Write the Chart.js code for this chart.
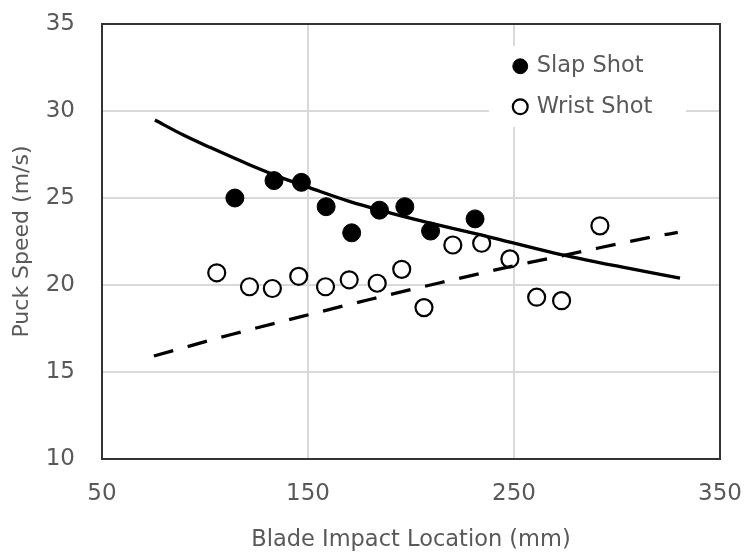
<!DOCTYPE html>
<html>
<head>
<meta charset="utf-8">
<script src="https://cdn.jsdelivr.net/npm/chart.js@4"></script>
<style>
  html, body { margin: 0; padding: 0; background: #ffffff; }
  #wrap { width: 745px; height: 554px; }
</style>
</head>
<body>
<div id="wrap"><canvas id="chart" width="745" height="554"></canvas></div>
<script>
// Measured puck speeds by blade impact location
const slapX  = [114.5, 133.5, 146.8, 158.8, 171.2, 184.7, 197.0, 209.5, 231.1];
const slapY  = [25.0, 26.0, 25.9, 24.5, 23.0, 24.3, 24.5, 23.1, 23.8];
const wristX = [105.7, 121.6, 132.7, 145.5, 158.5, 170.0, 183.6, 195.5, 206.3, 220.3, 234.3, 248.0, 261.0, 273.1, 291.7];
const wristY = [20.7, 19.9, 19.8, 20.5, 19.9, 20.3, 20.1, 20.9, 18.7, 22.3, 22.4, 21.5, 19.3, 19.1, 23.4];

// Trend curves through each group
const slapFitX  = [75.7, 89.5, 102.4, 121.8, 138.0, 151.0, 170.4, 186.5, 204.4, 236.7, 269.1, 301.5, 330.6];
const slapFitY  = [29.48, 28.62, 27.91, 26.90, 26.13, 25.58, 24.79, 24.25, 23.70, 22.80, 21.85, 21.05, 20.39];
const wristFitX = [75.2, 113.3, 146.6, 180.4, 214.1, 248.1, 280.4, 316.0, 329.5];
const wristFitY = [15.92, 17.17, 18.18, 19.18, 20.13, 21.05, 21.86, 22.74, 23.02];

// Axis ticks
const xTicks = [50, 150, 250, 350];
const yTicks = [10, 15, 20, 25, 30, 35];

const seriesNames = ['Slap Shot', 'Wrist Shot'];
const xTitle = 'Blade Impact Location (mm)';
const yTitle = 'Puck Speed (m/s)';

const pts = (xs, ys) => xs.map((x, i) => ({ x: x, y: ys[i] }));

const FONT = "'DejaVu Sans', sans-serif";
const TEXT = '#595959';

// Legend sits in the upper right of the plot on a white patch; plot gets a dark frame
const framePlugin = {
  id: 'frame',
  afterLayout(chart) {
    const lg = chart.legend;
    const a = chart.chartArea;
    lg.left = a.left + 395;
    lg.top = a.top + 13;
    lg.right = lg.left + 200;
    lg.bottom = lg.top + 110;
  },
  afterDraw(chart) {
    const ctx = chart.ctx;
    const a = chart.chartArea;
    ctx.save();
    ctx.fillStyle = '#ffffff';
    ctx.fillRect(a.left + 387, a.top + 22, 197, 81);
    chart.legend.draw();
    ctx.strokeStyle = '#333333';
    ctx.lineWidth = 2;
    ctx.strokeRect(a.left, a.top, a.right - a.left, a.bottom - a.top);
    ctx.restore();
  }
};

new Chart(document.getElementById('chart'), {
  type: 'scatter',
  data: {
    datasets: [
      {
        label: seriesNames[0],
        data: pts(slapX, slapY),
        pointStyle: 'circle',
        pointRadius: 9,
        pointHoverRadius: 9,
        pointBackgroundColor: '#000000',
        pointBorderColor: '#000000',
        pointBorderWidth: 1,
        showLine: false,
        order: 1
      },
      {
        label: seriesNames[1],
        data: pts(wristX, wristY),
        pointStyle: 'circle',
        pointRadius: 8.5,
        pointHoverRadius: 8.5,
        pointBackgroundColor: '#ffffff',
        pointBorderColor: '#000000',
        pointBorderWidth: 2.2,
        showLine: false,
        order: 1
      },
      {
        label: 'slap-fit',
        data: pts(slapFitX, slapFitY),
        showLine: true,
        pointRadius: 0,
        borderColor: '#000000',
        borderWidth: 3.3,
        cubicInterpolationMode: 'monotone',
        fill: false,
        order: 0
      },
      {
        label: 'wrist-fit',
        data: pts(wristFitX, wristFitY),
        showLine: true,
        pointRadius: 0,
        borderColor: '#000000',
        borderWidth: 3.3,
        borderDash: [20, 15],
        borderCapStyle: 'butt',
        cubicInterpolationMode: 'monotone',
        fill: false,
        order: 0
      }
    ]
  },
  options: {
    responsive: false,
    animation: false,
    devicePixelRatio: 1,
    layout: { padding: { top: 24, right: 25, bottom: 0, left: 0 } },
    plugins: {
      tooltip: { enabled: false },
      legend: {
        display: true,
        position: 'chartArea',
        align: 'start',
        labels: {
          usePointStyle: true,
          boxWidth: 10.5,
          boxHeight: 10.5,
          padding: 18,
          color: TEXT,
          font: { family: FONT, size: 22.5 },
          filter: (item) => item.datasetIndex < 2
        }
      }
    },
    scales: {
      x: {
        type: 'linear',
        min: xTicks[0],
        max: xTicks[xTicks.length - 1],
        afterBuildTicks: (s) => { s.ticks = xTicks.map(v => ({ value: v })); },
        afterFit: (s) => { s.height = 95; s.paddingLeft = 0; s.paddingRight = 0; },
        grid: { color: '#d9d9d9', lineWidth: 2, drawTicks: false },
        border: { display: false },
        ticks: { color: TEXT, font: { family: FONT, size: 23 }, padding: 21, maxRotation: 0 },
        title: {
          display: true, text: xTitle, color: TEXT,
          font: { family: FONT, size: 22.5 }, padding: { top: 0, bottom: 0 }
        }
      },
      y: {
        type: 'linear',
        min: yTicks[0],
        max: yTicks[yTicks.length - 1],
        afterBuildTicks: (s) => { s.ticks = yTicks.map(v => ({ value: v })); },
        afterFit: (s) => { s.width = 102; s.paddingTop = 0; s.paddingBottom = 0; },
        grid: { color: '#d9d9d9', lineWidth: 2, drawTicks: false },
        border: { display: false },
        ticks: { color: TEXT, font: { family: FONT, size: 23 }, padding: 27 },
        title: {
          display: true, text: yTitle, color: TEXT,
          font: { family: FONT, size: 22 }, padding: { top: 9, bottom: 0 }
        }
      }
    }
  },
  plugins: [framePlugin]
});
</script>
</body>
</html>
